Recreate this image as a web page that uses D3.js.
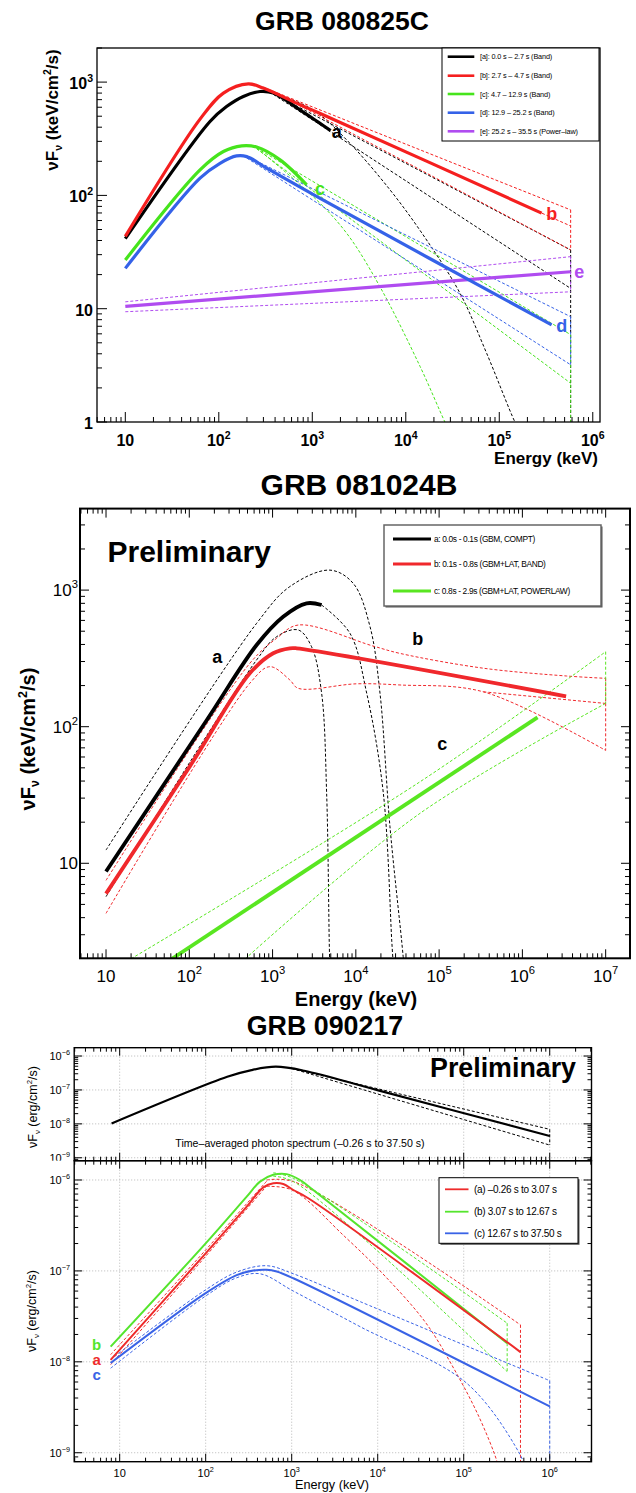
<!DOCTYPE html>
<html>
<head>
<meta charset="utf-8">
<script src="https://cdn.jsdelivr.net/npm/d3@7"></script>
<style>
  body { margin: 0; background: #fff; }
  svg { display: block; }
  svg text { font-family: "Liberation Sans", Arial, Helvetica, sans-serif; fill: #000; }
</style>
</head>
<body>
<svg id="chart" width="636" height="1493"></svg>
<script>
// ===== GRB 080825C  (E in keV, nuFnu in keV/cm2/s) =====
const p1Legend = ["[a]: 0.0 s – 2.7 s (Band)", "[b]: 2.7 s – 4.7 s (Band)", "[c]: 4.7 – 12.9 s (Band)",
                  "[d]: 12.9 – 25.2 s (Band)", "[e]: 25.2 s – 35.5 s (Power–law)"];
const p1Tags = ["a", "b", "c", "d", "e"];
const p1A = [[10, 41.5], [80.5, 449], [121, 608], [183, 747], [276, 826], [383, 800], [738, 569], [1200, 434], [1570, 373]];
const p1B = [[10, 43.5], [63, 471], [112, 800], [207, 966], [299, 885], [738, 631], [1200, 532], [2.84e5, 69.7]];
const p1C = [[10, 26.9], [63, 168], [112, 244], [176, 274], [254, 267], [452, 206], [871, 124]];
const p1D = [[10, 22.7], [63, 142], [103, 192], [155, 223], [199, 220], [325, 174], [1200, 94.5], [3.63e5, 7.2]];
const p1E = [[10, 10.5], [5.8e5, 21.2]];
const p1AHi = [[383, 790], [5.8e5, 33]];
const p1AMid = [[383, 780], [5.8e5, 15.1]];
const p1ALo = [[383, 800], [1020, 569], [2330, 309], [6780, 112], [16700, 40.4], [38000, 13.7], [73300, 4.04], [1.47e5, 1.0], [1.7e5, 0.8]];
const p1AEdge = [[5.8e5, 33], [5.8e5, 0.9]];
const p1BHi = [[299, 900], [5.8e5, 74.5]];
const p1BMid = [[738, 625], [5.8e5, 53.7]];
const p1BLo = [[738, 620], [5.8e5, 33]];
const p1BEdge = [[5.8e5, 74.5], [5.8e5, 33]];
const p1CHi = [[254, 262], [5.8e5, 5.9]];
const p1CMid = [[254, 258], [5.8e5, 2.2]];
const p1CLo = [[254, 262], [1020, 97.8], [2330, 46.4], [5300, 15.6], [14200, 3.1], [26200, 1.0], [30000, 0.8]];
const p1CEdge = [[5.8e5, 5.9], [5.8e5, 0.9]];
const p1DHi = [[199, 222], [5.8e5, 8.5]];
const p1DLo = [[199, 214], [5.8e5, 3.2]];
const p1DEdge = [[5.8e5, 8.5], [5.8e5, 3.2]];
const p1EHi = [[10, 11.5], [5.8e5, 28.8]];
const p1ELo = [[10, 9.4], [5.8e5, 14.1]];
const p1EEdge = [[5.8e5, 28.8], [5.8e5, 14.1]];

// ===== GRB 081024B  (E in keV, nuFnu in keV/cm2/s) =====
const p2Legend = ["a: 0.0s - 0.1s (GBM, COMPT)", "b: 0.1s - 0.8s (GBM+LAT, BAND)", "c: 0.8s - 2.9s (GBM+LAT, POWERLAW)"];
const p2Tags = ["a", "b", "c"];
const p2A = [[10, 8.7], [161, 111], [643, 396], [1340, 638], [2560, 800], [3880, 778]];
const p2AHi = [[10, 12.5], [643, 571], [1610, 1060], [4890, 1400], [9300, 1120], [14800, 540], [19500, 176], [25700, 18.5], [35500, 2.7], [37500, 1.9]];
const p2AFall = [[3880, 778], [8490, 483], [13500, 176], [21400, 32.5], [27000, 2.7], [28000, 1.9]];
const p2ALo = [[10, 5.7], [643, 308], [1120, 456], [2030, 511], [2940, 385], [3880, 176], [4460, 32.5], [4790, 2.7], [4850, 1.9]];
const p2B = [[10, 6.0], [101, 51], [533, 246], [1017, 345], [1610, 375], [1940, 375], [3.35e6, 167]];
const p2BHi = [[10, 7.5], [533, 291], [1120, 444], [2030, 555], [16000, 390], [33900, 344], [3.4e5, 268], [3.4e6, 235], [1e7, 226]];
const p2BLo = [[10, 4.3], [533, 208], [929, 275], [1610, 220], [2030, 191], [10200, 206], [33900, 202], [3.4e5, 180], [1e7, 67]];
const p2BMid = [[3.4e5, 180], [1e7, 148]];
const p2BEdge = [[1e7, 226], [1e7, 67]];
const p2C = [[62, 2.0], [1.52e6, 117]];
const p2CHi = [[20, 2.0], [58900, 39.5], [1e7, 354]];
const p2CLo = [[470, 2.0], [58900, 23.2], [1e7, 148]];
const p2CEdge = [[1e7, 354], [1e7, 148]];

// ===== GRB 090217  (E in keV, nuFnu in erg/cm2/s) =====
const p3Legend = ["(a) –0.26 s to 3.07 s", "(b) 3.07 s to 12.67 s", "(c) 12.67 s to 37.50 s"];
const p3Tags = ["b", "a", "c"];
const p3Avg = [[8.05, 1.03e-8], [178, 2.45e-7], [341, 3.86e-7], [654, 4.84e-7], [1400, 3.69e-7], [9890, 9.9e-8], [1e6, 4.37e-9]];
const p3AvgHi = [[1000, 4.3e-7], [1e6, 6.9e-9]];
const p3AvgLo = [[1000, 4.3e-7], [1e6, 2.37e-9]];
const p3AvgEdge = [[1e6, 6.9e-9], [1e6, 2.37e-9]];
const p3A = [[7.85, 1.05e-8], [100, 1.56e-7], [300, 5.1e-7], [468, 8.3e-7], [611, 9.2e-7], [798, 9.04e-7], [1045, 7.76e-7], [1560, 6.3e-7], [4.57e5, 1.28e-8]];
const p3ARise1 = [[7.85, 1.2e-8], [100, 1.7e-7], [300, 5.5e-7], [512, 9.7e-7]];
const p3ARise2 = [[7.85, 9.3e-9], [100, 1.45e-7], [300, 4.8e-7], [512, 8.6e-7]];
const p3AHi = [[512, 1.0e-6], [1050, 9.6e-7], [4.57e5, 2.55e-8]];
const p3ALo = [[512, 8.5e-7], [1010, 7.76e-7], [4150, 2.38e-7], [12300, 8.67e-8], [36500, 2.66e-8], [78000, 8.2e-9], [1.5e5, 2.5e-9], [2.44e5, 8e-10], [2.6e5, 6e-10]];
const p3AEdge = [[4.57e5, 2.55e-8], [4.57e5, 6e-10]];
const p3B = [[7.85, 1.47e-8], [100, 2.01e-7], [300, 6.56e-7], [428, 9.6e-7], [611, 1.14e-6], [874, 1.16e-6], [1250, 1.0e-6], [1780, 7.76e-7], [3.2e5, 1.6e-8]];
const p3BHi = [[611, 1.2e-6], [1050, 1.04e-6], [3.2e5, 2.66e-8]];
const p3BLo = [[611, 1.1e-6], [1050, 9.6e-7], [3.2e5, 7.8e-9]];
const p3BEdge = [[3.2e5, 2.66e-8], [3.2e5, 7.8e-9]];
const p3C = [[7.85, 9.7e-9], [100, 5.7e-8], [229, 9.0e-8], [358, 1.01e-7], [512, 1.03e-7], [670, 9.85e-8], [1045, 8.3e-8], [1e6, 3.23e-9]];
const p3CHi = [[7.85, 1.06e-8], [100, 6.2e-8], [229, 9.7e-8], [512, 1.14e-7], [1045, 9.3e-8], [6220, 4.6e-8], [1e6, 6.2e-9]];
const p3CLo = [[7.85, 8.5e-9], [100, 5.3e-8], [229, 8.4e-8], [428, 9.3e-8], [1045, 6.0e-8], [6220, 2.44e-8], [1.08e5, 5.83e-9], [4.43e5, 9.9e-10], [5.5e5, 6e-10]];
const p3CEdge = [[1e6, 6.2e-9], [1e6, 6e-10]];

// ---------------------------------------------------------------
const svg = d3.select("#chart");
svg.append("rect").attr("width", 636).attr("height", 1493).attr("fill", "#fff");
const DASH = "3,2";

function logTicks(dom) {
  const lo = Math.floor(Math.log10(dom[0])), hi = Math.ceil(Math.log10(dom[1]));
  const out = [];
  for (let p = lo; p <= hi; p++) {
    for (let m = 1; m < 10; m++) {
      const v = +(m + "e" + p);
      if (v >= dom[0] * 0.9999 && v <= dom[1] * 1.0001) out.push({ v: v, major: m === 1, p: p });
    }
  }
  return out;
}

function decadeLabel(sel, p, fs) {
  if (p === 0) { sel.text("1"); return; }
  if (p === 1) { sel.text("10"); return; }
  sel.append("tspan").text("10");
  sel.append("tspan").attr("font-size", fs * 0.66).attr("dy", -fs * 0.45).text(p < 0 ? "−" + (-p) : p);
}

// a panel: log x / log y scales, clip region, groups
function makePanel(o) {
  const x = d3.scaleLog().domain(o.xDom).range([o.left, o.right]);
  const y = d3.scaleLog().domain(o.yDom).range([o.bottom, o.top]);
  svg.append("clipPath").attr("id", "clip" + o.id).append("rect")
      .attr("x", o.left).attr("y", o.top)
      .attr("width", o.right - o.left).attr("height", o.bottom - o.top);
  const back = svg.append("g");
  const plot = svg.append("g").attr("clip-path", "url(#clip" + o.id + ")");
  const front = svg.append("g");
  return { x: x, y: y, o: o, back: back, plot: plot, front: front };
}

function drawGrid(P) {
  const { x, y, o } = P;
  const xs = logTicks(o.xDom).filter(d => d.major), ys = logTicks(o.yDom).filter(d => d.major);
  const g = P.back.append("g").attr("stroke", "#b8b8b8").attr("stroke-width", 1).attr("stroke-dasharray", "1,2");
  g.selectAll(".gx").data(xs).enter().append("line")
      .attr("x1", d => x(d.v)).attr("x2", d => x(d.v)).attr("y1", o.top).attr("y2", o.bottom);
  g.selectAll(".gy").data(ys).enter().append("line")
      .attr("y1", d => y(d.v)).attr("y2", d => y(d.v)).attr("x1", o.left).attr("x2", o.right);
}

function drawAxes(P, a) {
  const { x, y, o } = P;
  const xt = logTicks(o.xDom), yt = logTicks(o.yDom);
  const g = P.front.append("g").attr("stroke", "#000").attr("stroke-width", a.tw);
  g.selectAll(".xb").data(xt).enter().append("line")
      .attr("x1", d => x(d.v)).attr("x2", d => x(d.v))
      .attr("y1", o.bottom).attr("y2", d => o.bottom - (d.major ? a.maj : a.min));
  g.selectAll(".yl").data(yt).enter().append("line")
      .attr("y1", d => y(d.v)).attr("y2", d => y(d.v))
      .attr("x1", o.left).attr("x2", d => o.left + (d.major ? a.maj : a.min));
  if (a.all) {
    g.selectAll(".xt").data(xt).enter().append("line")
        .attr("x1", d => x(d.v)).attr("x2", d => x(d.v))
        .attr("y1", o.top).attr("y2", d => o.top + (d.major ? a.maj : a.min));
    g.selectAll(".yr").data(yt).enter().append("line")
        .attr("y1", d => y(d.v)).attr("y2", d => y(d.v))
        .attr("x1", o.right).attr("x2", d => o.right - (d.major ? a.maj : a.min));
  }
  P.front.append("rect")
      .attr("x", o.left).attr("y", o.top).attr("width", o.right - o.left).attr("height", o.bottom - o.top)
      .attr("fill", "none").attr("stroke", "#000").attr("stroke-width", a.fw);

  if (a.xLab) {
    P.front.selectAll(".xlab").data(xt.filter(d => d.major)).enter().append("text")
        .attr("x", d => x(d.v)).attr("y", a.xLabY)
        .attr("text-anchor", "middle").attr("font-size", a.fs).attr("font-weight", a.bold ? "bold" : "normal")
        .each(function(d) { decadeLabel(d3.select(this), d.p, a.fs); });
  }
  const yl = (a.yClip ? P.front.append("g").attr("clip-path", a.yClip) : P.front);
  yl.selectAll(".ylab").data(yt.filter(d => d.major)).enter().append("text")
      .attr("x", a.yLabX).attr("y", d => y(d.v) + a.yOff)
      .attr("text-anchor", "end").attr("font-size", a.fs).attr("font-weight", a.bold ? "bold" : "normal")
      .each(function(d) { decadeLabel(d3.select(this), d.p, a.fs); });
}

function drawSeries(P, list) {
  const line = d3.line().x(d => P.x(d[0])).y(d => P.y(d[1]));
  P.plot.selectAll(null).data(list).enter().append("path")
      .attr("d", s => line.curve(s.smooth ? d3.curveCatmullRom.alpha(0.5) : d3.curveLinear)(s.pts))
      .attr("fill", "none")
      .attr("stroke", s => s.color)
      .attr("stroke-width", s => s.w)
      .attr("stroke-dasharray", s => s.dash ? DASH : null)
      .attr("stroke-linejoin", "round");
}

function drawLegend(L) {
  const g = svg.append("g");
  const w = L.box[2] - L.box[0], h = L.box[3] - L.box[1];
  if (L.shadow) g.append("rect").attr("x", L.box[0] + L.shadow).attr("y", L.box[1] + L.shadow)
      .attr("width", w).attr("height", h).attr("fill", "#555");
  g.append("rect").attr("x", L.box[0]).attr("y", L.box[1]).attr("width", w).attr("height", h)
      .attr("fill", "#fff").attr("stroke", L.stroke).attr("stroke-width", L.sw);
  const rows = g.selectAll("g.row").data(L.labels).enter().append("g");
  rows.append("line")
      .attr("x1", L.lx[0]).attr("x2", L.lx[1])
      .attr("y1", (d, i) => L.rows[i]).attr("y2", (d, i) => L.rows[i])
      .attr("stroke", (d, i) => L.colors[i]).attr("stroke-width", L.lw);
  rows.append("text")
      .attr("x", L.tx).attr("y", (d, i) => L.rows[i] + L.fs * 0.36)
      .attr("font-size", L.fs).attr("letter-spacing", L.ls || 0)
      .attr("font-weight", L.bold ? "bold" : "normal")
      .text(d => d);
}

function yTitle(x, y, fs, weight, unit) {
  const t = svg.append("text").attr("transform", "translate(" + x + "," + y + ") rotate(-90)")
      .attr("text-anchor", "middle").attr("font-size", fs).attr("font-weight", weight);
  t.append("tspan").text("νF");
  t.append("tspan").attr("font-size", fs * 0.62).attr("dy", fs * 0.22).text("ν");
  t.append("tspan").attr("dy", -fs * 0.22).text(" (" + unit[0]);
  t.append("tspan").attr("font-size", fs * 0.62).attr("dy", -fs * 0.4).text("2");
  t.append("tspan").attr("dy", fs * 0.4).text(unit[1]);
}

function addText(x, y, str, fs, weight, anchor, color) {
  svg.append("text").attr("x", x).attr("y", y).attr("font-size", fs)
      .attr("font-weight", weight).attr("text-anchor", anchor || "start")
      .style("fill", color || "#000").text(str);
}

// ================= panel 1 =================
const C1 = { black: "#000", red: "#f51f1f", green: "#46e41c", blue: "#3562e8", purple: "#b04cf0" };
addText(342, 30, "GRB 080825C", 26.5, "bold", "middle");
const P1 = makePanel({ id: 1, left: 97, right: 600, top: 48, bottom: 422, xDom: [4.98, 1.195e6], yDom: [1, 2000] });
drawSeries(P1, [
  { pts: p1AHi, color: C1.black, w: 1, dash: true }, { pts: p1AMid, color: C1.black, w: 1, dash: true },
  { pts: p1ALo, color: C1.black, w: 1, dash: true, smooth: true }, { pts: p1AEdge, color: C1.black, w: 1, dash: true },
  { pts: p1BHi, color: C1.red, w: 1, dash: true }, { pts: p1BMid, color: C1.red, w: 1, dash: true },
  { pts: p1BLo, color: C1.red, w: 1, dash: true }, { pts: p1BEdge, color: C1.red, w: 1, dash: true },
  { pts: p1CHi, color: C1.green, w: 1, dash: true }, { pts: p1CMid, color: C1.green, w: 1, dash: true },
  { pts: p1CLo, color: C1.green, w: 1, dash: true, smooth: true }, { pts: p1CEdge, color: C1.green, w: 1, dash: true },
  { pts: p1DHi, color: C1.blue, w: 1, dash: true }, { pts: p1DLo, color: C1.blue, w: 1, dash: true },
  { pts: p1DEdge, color: C1.blue, w: 1, dash: true },
  { pts: p1EHi, color: C1.purple, w: 1, dash: true }, { pts: p1ELo, color: C1.purple, w: 1, dash: true },
  { pts: p1EEdge, color: C1.purple, w: 1, dash: true },
  { pts: p1E, color: C1.purple, w: 3.2 },
  { pts: p1D, color: C1.blue, w: 3.2, smooth: true },
  { pts: p1C, color: C1.green, w: 3.2, smooth: true },
  { pts: p1A, color: C1.black, w: 3.2, smooth: true },
  { pts: p1B, color: C1.red, w: 3.2, smooth: true }
]);
drawAxes(P1, { tw: 1, fw: 1.3, maj: 10, min: 5, all: false, xLab: true, xLabY: 446, fs: 16, bold: true, yLabX: 93, yOff: 7 });
addText(598, 464, "Energy (keV)", 17, "bold", "end");
yTitle(58, 110, 17, "bold", ["keV/cm", "/s)"]);
drawLegend({ box: [442, 48, 599, 141], stroke: "#000", sw: 1, lw: 2.6, lx: [447.7, 474.3], tx: 480,
  rows: [56.7, 75.7, 94, 112.7, 131.3], fs: 7.3, ls: -0.15, labels: p1Legend,
  colors: [C1.black, C1.red, C1.green, C1.blue, C1.purple] });
const p1TagPos = [[336.7, 131.7], [551.7, 213], [320, 188.3], [561.7, 325], [579.3, 271.7]];
const p1TagCol = [C1.black, C1.red, C1.green, C1.blue, C1.purple];
p1Tags.forEach((t, i) => addText(p1TagPos[i][0], p1TagPos[i][1] + 6.5, t, 18, "bold", "middle", p1TagCol[i]));

// ================= panel 2 =================
const C2 = { black: "#000", red: "#f0282c", green: "#59e621" };
addText(359, 494.5, "GRB 081024B", 30, "bold", "middle");
const P2 = makePanel({ id: 2, left: 80, right: 630, top: 508.6, bottom: 958.3, xDom: [4.87, 1.96e7], yDom: [2.016, 3950] });
drawSeries(P2, [
  { pts: p2AHi, color: C2.black, w: 1, dash: true, smooth: true },
  { pts: p2AFall, color: C2.black, w: 1, dash: true, smooth: true },
  { pts: p2ALo, color: C2.black, w: 1, dash: true, smooth: true },
  { pts: p2BHi, color: C2.red, w: 1, dash: true, smooth: true },
  { pts: p2BLo, color: C2.red, w: 1, dash: true, smooth: true },
  { pts: p2BMid, color: C2.red, w: 1, dash: true },
  { pts: p2BEdge, color: C2.red, w: 1, dash: true },
  { pts: p2CHi, color: C2.green, w: 1, dash: true, smooth: true },
  { pts: p2CLo, color: C2.green, w: 1, dash: true, smooth: true },
  { pts: p2CEdge, color: C2.green, w: 1, dash: true },
  { pts: p2C, color: C2.green, w: 3.8 },
  { pts: p2A, color: C2.black, w: 3.8, smooth: true },
  { pts: p2B, color: C2.red, w: 3.8, smooth: true }
]);
drawAxes(P2, { tw: 1, fw: 2, maj: 9, min: 5, all: true, xLab: true, xLabY: 982, fs: 17, bold: false, yLabX: 78, yOff: 6 });
addText(356, 1005.5, "Energy (keV)", 20, "bold", "middle");
yTitle(35, 739, 20, "bold", ["keV/cm", "/s)"]);
addText(107.5, 561.5, "Preliminary", 30, "bold", "start");
drawLegend({ box: [384, 525, 601, 606], stroke: "#666", sw: 1.5, shadow: 1.5, lw: 3, lx: [393, 431], tx: 434,
  rows: [539, 564, 591], fs: 8.4, ls: -0.35, labels: p2Legend, colors: [C2.black, C2.red, C2.green] });
const p2TagPos = [[217.3, 656.7], [417.8, 638.7], [442.2, 743.8]];
p2Tags.forEach((t, i) => addText(p2TagPos[i][0], p2TagPos[i][1] + 6.5, t, 18, "bold", "middle"));

// ================= panel 3 =================
const C3 = { black: "#000", red: "#ee2b2b", green: "#55e52d", blue: "#3a63e6" };
addText(325, 1034.5, "GRB 090217", 26.8, "bold", "middle");
svg.append("clipPath").attr("id", "clipTopLab").append("rect").attr("x", 0).attr("y", 1040).attr("width", 80).attr("height", 120.7);

const P3t = makePanel({ id: 3, left: 74.2, right: 591.5, top: 1047.7, bottom: 1160.7, xDom: [2.96, 3.06e6], yDom: [8.2e-10, 1.76e-6] });
drawGrid(P3t);
drawSeries(P3t, [
  { pts: p3AvgHi, color: C3.black, w: 1, dash: true }, { pts: p3AvgLo, color: C3.black, w: 1, dash: true },
  { pts: p3AvgEdge, color: C3.black, w: 1, dash: true },
  { pts: p3Avg, color: C3.black, w: 2.2, smooth: true }
]);
drawAxes(P3t, { tw: 1, fw: 1.4, maj: 8, min: 4, all: true, xLab: false, fs: 11, bold: false, yLabX: 70, yOff: 4, yClip: "url(#clipTopLab)" });
addText(576, 1077, "Preliminary", 26.8, "bold", "end");
addText(300, 1147, "Time–averaged photon spectrum (–0.26 s to 37.50 s)", 10.6, "normal", "middle");
yTitle(37, 1107, 12.5, "normal", ["erg/cm", "/s)"]);

const P3b = makePanel({ id: 4, left: 74.2, right: 591.5, top: 1160.7, bottom: 1461.7, xDom: [2.96, 3.06e6], yDom: [7.97e-10, 1.63e-6] });
drawGrid(P3b);
drawSeries(P3b, [
  { pts: p3ARise1, color: C3.red, w: 1, dash: true, smooth: true },
  { pts: p3ARise2, color: C3.red, w: 1, dash: true, smooth: true },
  { pts: p3AHi, color: C3.red, w: 1, dash: true, smooth: true },
  { pts: p3ALo, color: C3.red, w: 1, dash: true, smooth: true },
  { pts: p3AEdge, color: C3.red, w: 1, dash: true },
  { pts: p3BHi, color: C3.green, w: 1, dash: true, smooth: true },
  { pts: p3BLo, color: C3.green, w: 1, dash: true, smooth: true },
  { pts: p3BEdge, color: C3.green, w: 1, dash: true },
  { pts: p3CHi, color: C3.blue, w: 1, dash: true, smooth: true },
  { pts: p3CLo, color: C3.blue, w: 1, dash: true, smooth: true },
  { pts: p3CEdge, color: C3.blue, w: 1, dash: true },
  { pts: p3C, color: C3.blue, w: 2, smooth: true },
  { pts: p3B, color: C3.green, w: 2, smooth: true },
  { pts: p3A, color: C3.red, w: 2, smooth: true }
]);
drawAxes(P3b, { tw: 1, fw: 1.4, maj: 8, min: 4, all: true, xLab: true, xLabY: 1477, fs: 11, bold: false, yLabX: 70, yOff: 4 });
addText(332, 1489, "Energy (keV)", 12.7, "normal", "middle");
yTitle(36, 1311, 12.5, "normal", ["erg/cm", "/s)"]);
drawLegend({ box: [439, 1177.7, 578, 1243.3], stroke: "#000", sw: 1, shadow: 1.5, lw: 1.8, lx: [445, 468.5], tx: 474,
  rows: [1189.3, 1211.7, 1233.3], fs: 10, ls: -0.3, labels: p3Legend, colors: [C3.red, C3.green, C3.blue] });
const p3TagPos = [[96.7, 1345], [96.7, 1360], [96.7, 1375]];
const p3TagCol = [C3.green, C3.red, C3.blue];
p3Tags.forEach((t, i) => addText(p3TagPos[i][0], p3TagPos[i][1] + 5, t, 15, "bold", "middle", p3TagCol[i]));
</script>
</body>
</html>
